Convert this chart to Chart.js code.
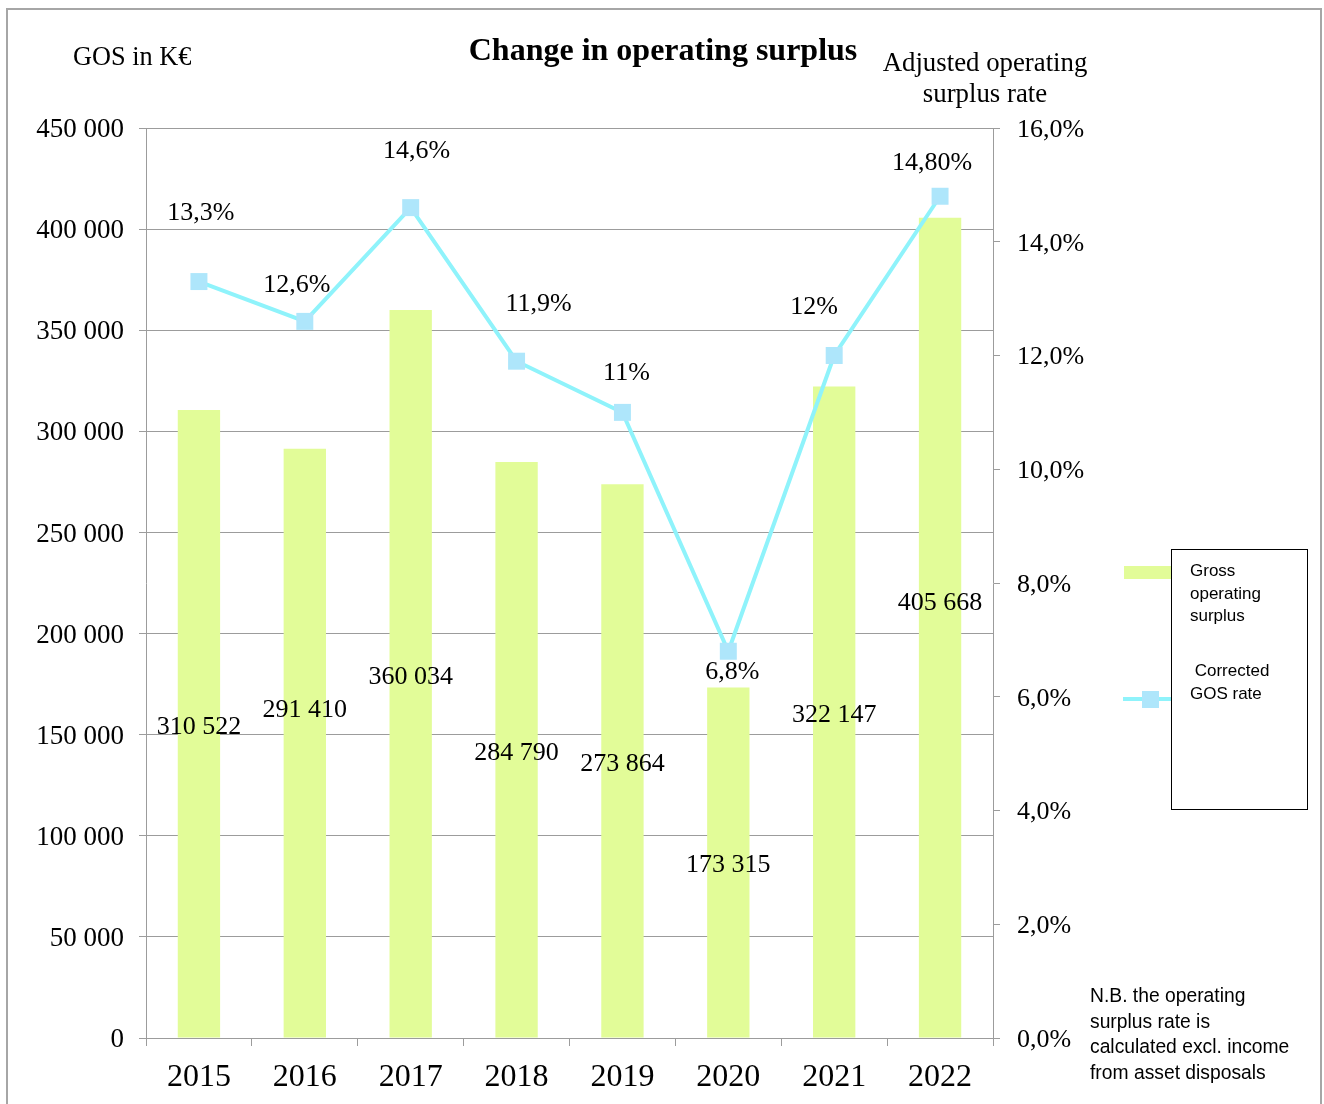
<!DOCTYPE html>
<html lang="en">
<head>
    <meta charset="UTF-8">
    <title>Change in operating surplus</title>
    <script src="https://cdn.jsdelivr.net/npm/chart.js"></script>
    <style>
        body {
            margin: 0;
            background: #fff;
            font-family: 'Liberation Serif', serif;
            color: #000;
        }

        .page {
            position: relative;
            width: 1324px;
            height: 1104px;
            overflow: hidden;
        }

        .frame {
            position: absolute;
            left: 6px;
            top: 8px;
            width: 1312px;
            height: 1110px;
            border: 2px solid #a6a6a6;
        }

        #gosChart {
            position: absolute;
            left: 0;
            top: 0;
        }

        .txt {
            position: absolute;
            white-space: nowrap;
        }

        .title {
            left: 363px;
            width: 600px;
            top: 30px;
            text-align: center;
            font-size: 32px;
            font-weight: bold;
            line-height: 38px;
        }

        .left-title {
            left: 73px;
            top: 41px;
            font-size: 26.3px;
            line-height: 32px;
        }

        .right-title {
            left: 835px;
            width: 300px;
            top: 47px;
            text-align: center;
            font-size: 26.8px;
            line-height: 31px;
        }

        .legend-box {
            position: absolute;
            left: 1171px;
            top: 549px;
            width: 135px;
            height: 259px;
            border: 1px solid #000;
            background: #fff;
        }

        .legend-text {
            position: absolute;
            font-family: 'Liberation Sans', sans-serif;
            font-size: 17px;
            line-height: 22.5px;
            white-space: nowrap;
        }

        .swatch-bar {
            position: absolute;
            left: 1124px;
            top: 566px;
            width: 47px;
            height: 13px;
            background: #e2fc98;
        }

        .swatch-line {
            position: absolute;
            left: 1123px;
            top: 697px;
            width: 48px;
            height: 4px;
            background: #8ff3fb;
        }

        .swatch-point {
            position: absolute;
            left: 1142px;
            top: 691px;
            width: 17px;
            height: 17px;
            background: #aee6fb;
        }

        .note {
            position: absolute;
            left: 1090px;
            top: 983px;
            font-family: 'Liberation Sans', sans-serif;
            font-size: 19.3px;
            line-height: 25.7px;
            white-space: nowrap;
        }
    </style>
</head>
<body>
    <div class="page">
        <canvas id="gosChart" width="1324" height="1104"></canvas>
        <div class="frame"></div>

        <div class="txt title">Change in operating surplus</div>
        <div class="txt left-title">GOS in K€</div>
        <div class="txt right-title">Adjusted operating<br>surplus rate</div>

        <div class="swatch-bar"></div>
        <div class="swatch-line"></div>
        <div class="swatch-point"></div>
        <div class="legend-box">
            <div class="legend-text" style="left:18px; top:10px;">Gross<br>operating<br>surplus</div>
            <div class="legend-text" style="left:18px; top:110px;">&nbsp;Corrected<br>GOS rate</div>
        </div>

        <div class="note">N.B. the operating<br>surplus rate is<br>calculated excl. income<br>from asset disposals</div>
    </div>

    <script>
        // chart values
        const years = ['2015', '2016', '2017', '2018', '2019', '2020', '2021', '2022'];
        const gosValues = [310522, 291410, 360034, 284790, 273864, 173315, 322147, 405668];
        const rateValues = [13.3, 12.6, 14.6, 11.9, 11.0, 6.8, 12.0, 14.8];
        const rateLabels = ['13,3%', '12,6%', '14,6%', '11,9%', '11%', '6,8%', '12%', '14,80%'];

        // label nudges (px), like the hand-moved labels in the original
        const barLabelShift = [0, -36, 0, 0, 0, 0, 0, -27];
        const rateLabelShift = [[2, -70], [-8, -38], [6, -58], [22, -59], [4, -41], [4, 19], [-20, -50], [-8, -35]];

        const grey = '#9c9c9c';

        function spaced(n) {
            return n.toString().replace(/\B(?=(\d{3})+(?!\d))/g, ' ');
        }

        // draws the value labels on bars and points
        const valueLabels = {
            id: 'valueLabels',
            afterDatasetsDraw(chart) {
                const ctx = chart.ctx;
                ctx.save();
                ctx.fillStyle = '#000';
                ctx.textAlign = 'center';
                ctx.textBaseline = 'middle';
                ctx.font = '26px "Liberation Serif"';

                chart.getDatasetMeta(0).data.forEach((bar, i) => {
                    const y = (bar.y + bar.base) / 2 + barLabelShift[i] + 3;
                    ctx.fillText(spaced(gosValues[i]), bar.x, y);
                });

                chart.getDatasetMeta(1).data.forEach((pt, i) => {
                    const s = rateLabelShift[i];
                    ctx.fillText(rateLabels[i], pt.x + s[0], pt.y + s[1] + 2);
                });
                ctx.restore();
            }
        };

        new Chart(document.getElementById('gosChart'), {
            data: {
                labels: years,
                datasets: [{
                    type: 'bar',
                    label: 'Gross operating surplus',
                    data: gosValues,
                    backgroundColor: '#e2fc98',
                    barPercentage: 0.4,
                    categoryPercentage: 1,
                    yAxisID: 'y',
                    order: 2
                }, {
                    type: 'line',
                    label: 'Corrected GOS rate',
                    data: rateValues,
                    borderColor: '#8ff3fb',
                    borderWidth: 4,
                    pointStyle: 'rect',
                    pointRadius: 12,
                    pointBackgroundColor: '#aee6fb',
                    pointBorderColor: '#aee6fb',
                    pointBorderWidth: 0,
                    tension: 0,
                    yAxisID: 'y1',
                    order: 1
                }]
            },
            options: {
                responsive: false,
                animation: false,
                layout: {
                    padding: { top: 128, left: 0, right: 0, bottom: 0 }
                },
                plugins: {
                    legend: { display: false },
                    tooltip: { enabled: false }
                },
                scales: {
                    x: {
                        offset: true,
                        afterFit(scale) { scale.height = 66; },
                        grid: {
                            offset: true,
                            drawOnChartArea: false,
                            drawTicks: true,
                            tickLength: 8,
                            color: grey
                        },
                        border: { color: grey },
                        ticks: {
                            color: '#000',
                            padding: 12,
                            font: { family: 'Liberation Serif', size: 32 }
                        }
                    },
                    y: {
                        position: 'left',
                        min: 0,
                        max: 450000,
                        afterFit(scale) { scale.width = 146; },
                        grid: {
                            color: grey,
                            tickLength: 7
                        },
                        border: { color: grey },
                        ticks: {
                            stepSize: 50000,
                            color: '#000',
                            padding: 15,
                            labelOffset: 2,
                            font: { family: 'Liberation Serif', size: 27 },
                            callback: v => spaced(v)
                        }
                    },
                    y1: {
                        position: 'right',
                        min: 0,
                        max: 16,
                        afterFit(scale) { scale.width = 331; },
                        grid: {
                            drawOnChartArea: false,
                            color: grey,
                            tickLength: 7
                        },
                        border: { color: grey },
                        ticks: {
                            stepSize: 2,
                            color: '#000',
                            padding: 17,
                            labelOffset: 2,
                            font: { family: 'Liberation Serif', size: 26 },
                            callback: v => v.toFixed(1).replace('.', ',') + '%'
                        }
                    }
                }
            },
            plugins: [valueLabels]
        });
    </script>
</body>
</html>
